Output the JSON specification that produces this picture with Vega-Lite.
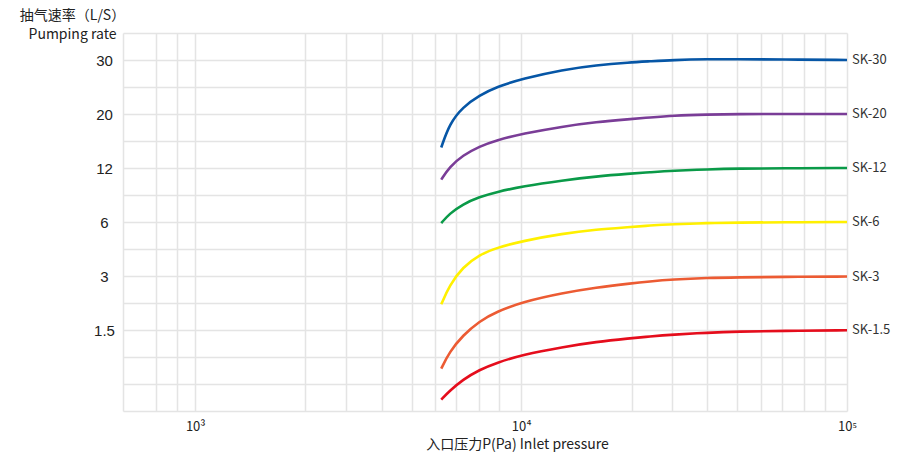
{
  "$schema": "https://vega.github.io/schema/vega-lite/v6.json",
  "width": 724,
  "height": 378,
  "autosize": {"type": "none"},
  "padding": {"left": 123, "top": 33, "right": 70, "bottom": 41},
  "background": "white",
  "config": {"view": {"stroke": null}, "font": "Noto Sans CJK SC"},
  "data": {"values": [
    {"series":"SK-30","pressure":5686,"level":9.76},{"series":"SK-30","pressure":6029,"level":10.64},{"series":"SK-30","pressure":6622,"level":11.26},{"series":"SK-30","pressure":7453,"level":11.69},{"series":"SK-30","pressure":8385,"level":12.0},{"series":"SK-30","pressure":10116,"level":12.31},{"series":"SK-30","pressure":13419,"level":12.64},{"series":"SK-30","pressure":16995,"level":12.81},{"series":"SK-30","pressure":21495,"level":12.91},{"series":"SK-30","pressure":24761,"level":12.95},{"series":"SK-30","pressure":29183,"level":13.0},{"series":"SK-30","pressure":37367,"level":13.03},{"series":"SK-30","pressure":46180,"level":13.03},{"series":"SK-30","pressure":63450,"level":13.02},{"series":"SK-30","pressure":100000,"level":13.0},
    {"series":"SK-20","pressure":5686,"level":8.57},{"series":"SK-20","pressure":6029,"level":9.04},{"series":"SK-20","pressure":6622,"level":9.47},{"series":"SK-20","pressure":7453,"level":9.80},{"series":"SK-20","pressure":8385,"level":10.03},{"series":"SK-20","pressure":10116,"level":10.27},{"series":"SK-20","pressure":13419,"level":10.54},{"series":"SK-20","pressure":16995,"level":10.70},{"series":"SK-20","pressure":21495,"level":10.81},{"series":"SK-20","pressure":24761,"level":10.87},{"series":"SK-20","pressure":29183,"level":10.94},{"series":"SK-20","pressure":37367,"level":10.98},{"series":"SK-20","pressure":46180,"level":11.0},{"series":"SK-20","pressure":63450,"level":11.0},{"series":"SK-20","pressure":100000,"level":11.0},
    {"series":"SK-12","pressure":5686,"level":6.96},{"series":"SK-12","pressure":6029,"level":7.31},{"series":"SK-12","pressure":6622,"level":7.66},{"series":"SK-12","pressure":7453,"level":7.93},{"series":"SK-12","pressure":8385,"level":8.11},{"series":"SK-12","pressure":10116,"level":8.32},{"series":"SK-12","pressure":13419,"level":8.54},{"series":"SK-12","pressure":16995,"level":8.69},{"series":"SK-12","pressure":21495,"level":8.79},{"series":"SK-12","pressure":24761,"level":8.84},{"series":"SK-12","pressure":29183,"level":8.90},{"series":"SK-12","pressure":37367,"level":8.95},{"series":"SK-12","pressure":46180,"level":8.98},{"series":"SK-12","pressure":63450,"level":8.99},{"series":"SK-12","pressure":100000,"level":9.0},
    {"series":"SK-6","pressure":5686,"level":3.95},{"series":"SK-6","pressure":6029,"level":4.66},{"series":"SK-6","pressure":6622,"level":5.33},{"series":"SK-6","pressure":7453,"level":5.79},{"series":"SK-6","pressure":8385,"level":6.04},{"series":"SK-6","pressure":10116,"level":6.30},{"series":"SK-6","pressure":13419,"level":6.57},{"series":"SK-6","pressure":16995,"level":6.72},{"series":"SK-6","pressure":21495,"level":6.81},{"series":"SK-6","pressure":24761,"level":6.87},{"series":"SK-6","pressure":29183,"level":6.92},{"series":"SK-6","pressure":37367,"level":6.96},{"series":"SK-6","pressure":46180,"level":6.98},{"series":"SK-6","pressure":63450,"level":6.99},{"series":"SK-6","pressure":100000,"level":7.0},
    {"series":"SK-3","pressure":5686,"level":1.57},{"series":"SK-3","pressure":6029,"level":2.19},{"series":"SK-3","pressure":6622,"level":2.80},{"series":"SK-3","pressure":7453,"level":3.33},{"series":"SK-3","pressure":8385,"level":3.67},{"series":"SK-3","pressure":10116,"level":4.04},{"series":"SK-3","pressure":13419,"level":4.37},{"series":"SK-3","pressure":16995,"level":4.57},{"series":"SK-3","pressure":21495,"level":4.72},{"series":"SK-3","pressure":24761,"level":4.80},{"series":"SK-3","pressure":29183,"level":4.87},{"series":"SK-3","pressure":37367,"level":4.93},{"series":"SK-3","pressure":46180,"level":4.95},{"series":"SK-3","pressure":63450,"level":4.97},{"series":"SK-3","pressure":100000,"level":4.98},
    {"series":"SK-1.5","pressure":5686,"level":0.42},{"series":"SK-1.5","pressure":6029,"level":0.74},{"series":"SK-1.5","pressure":6622,"level":1.16},{"series":"SK-1.5","pressure":7453,"level":1.53},{"series":"SK-1.5","pressure":8385,"level":1.78},{"series":"SK-1.5","pressure":10116,"level":2.09},{"series":"SK-1.5","pressure":13419,"level":2.37},{"series":"SK-1.5","pressure":16995,"level":2.56},{"series":"SK-1.5","pressure":21495,"level":2.69},{"series":"SK-1.5","pressure":24761,"level":2.76},{"series":"SK-1.5","pressure":29183,"level":2.83},{"series":"SK-1.5","pressure":37367,"level":2.90},{"series":"SK-1.5","pressure":46180,"level":2.94},{"series":"SK-1.5","pressure":63450,"level":2.97},{"series":"SK-1.5","pressure":100000,"level":2.99}
  ]},
  "encoding": {
    "x": {
      "field": "pressure", "type": "quantitative",
      "scale": {"type": "log", "domain": [600, 100000], "nice": false},
      "axis": {
        "values": [600, 755, 879, 1000, 2176, 2907, 3737, 4616, 5450, 6322, 7406, 8552, 10000, 21846, 29084, 37255, 45950, 54650, 63280, 73910, 85560, 100000],
        "labelExpr": "datum.value == 1000 ? '10³' : datum.value == 10000 ? '10⁴' : datum.value == 100000 ? '10⁵' : ''",
        "grid": true, "gridColor": "#e4e4e4", "gridWidth": 1.5,
        "domain": false, "ticks": false, "tickSize": 0,
        "labelOverlap": false, "labelFlush": false,
        "labelPadding": 19, "labelBaseline": "alphabetic", "labelAlign": "center",
        "labelFont": "Noto Sans CJK SC", "labelFontSize": 13, "labelColor": "#222",
        "title": "入口压力P(Pa) Inlet pressure",
        "titleFont": "Noto Sans CJK SC", "titleFontSize": 14, "titleFontWeight": "normal", "titleColor": "#222",
        "titleAlign": "center", "titleBaseline": "alphabetic", "titleX": 394, "titleY": 37.5
      }
    },
    "y": {
      "field": "level", "type": "quantitative",
      "scale": {"domain": [0, 14], "nice": false, "zero": false},
      "axis": {
        "values": [0, 1, 2, 3, 4, 5, 6, 7, 8, 9, 10, 11, 12, 13, 14],
        "labelExpr": "datum.value == 13 ? '30' : datum.value == 11 ? '20' : datum.value == 9 ? '12' : datum.value == 7 ? '6' : datum.value == 5 ? '3' : datum.value == 3 ? '1.5' : ''",
        "grid": true, "gridColor": "#e4e4e4", "gridWidth": 1.5,
        "domain": false, "ticks": false, "tickSize": 0,
        "labelOverlap": false, "labelFlush": false,
        "labelAlign": "center", "labelBaseline": "middle", "labelPadding": 19,
        "labelFont": "Liberation Sans", "labelFontSize": 15, "labelColor": "#222",
        "title": ["抽气速率（L/S）", "Pumping rate"],
        "titleFont": "Noto Sans CJK SC", "titleFontSize": 14, "titleFontWeight": "normal", "titleColor": "#222",
        "titleAngle": 0, "titleAlign": "center", "titleBaseline": "alphabetic",
        "titleX": -51, "titleY": -14, "titleLineHeight": 19
      }
    }
  },
  "layer": [
    {
      "mark": {"type": "line", "interpolate": "basis", "strokeWidth": 2.6},
      "encoding": {
        "color": {
          "field": "series", "type": "nominal",
          "scale": {"domain": ["SK-30", "SK-20", "SK-12", "SK-6", "SK-3", "SK-1.5"],
                    "range": ["#0656a6", "#7a3d97", "#0a9a48", "#fff000", "#ec5b33", "#e50d1c"]},
          "legend": null
        }
      }
    },
    {
      "transform": [{"filter": "datum.pressure == 100000"}],
      "mark": {"type": "text", "align": "left", "baseline": "middle", "dx": 5, "fontSize": 13, "font": "Noto Sans CJK SC", "color": "#333"},
      "encoding": {"text": {"field": "series"}}
    }
  ]
}
